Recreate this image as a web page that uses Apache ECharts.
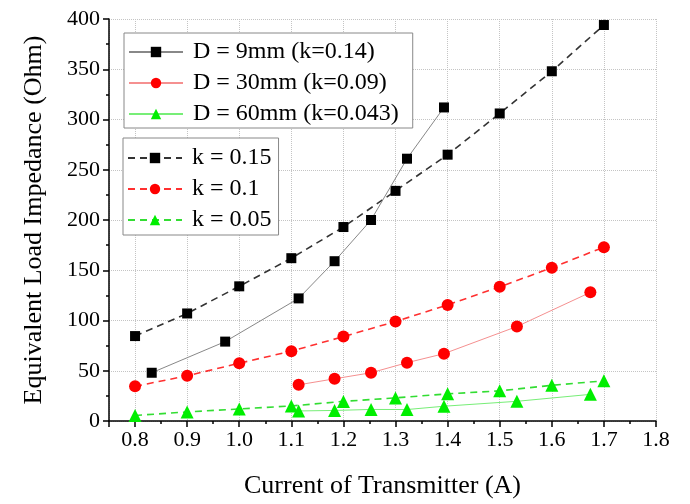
<!DOCTYPE html>
<html><head><meta charset="utf-8">
<script src="https://cdn.jsdelivr.net/npm/echarts@6/dist/echarts.min.js"></script>
<style>html,body{margin:0;padding:0;background:#fff}#c{width:690px;height:504px}</style>
</head><body><div id="c"></div>
<script>
// ---- data ----
const xTickLabels = ['0.8','0.9','1.0','1.1','1.2','1.3','1.4','1.5','1.6','1.7','1.8'];
const yTickLabels = ['0','50','100','150','200','250','300','350','400'];

const d9X  = [0.832, 0.973, 1.114, 1.183, 1.253, 1.322, 1.393];
const d9Y  = [48, 79, 122, 159, 200, 261, 312];
const d30X = [1.114, 1.183, 1.253, 1.322, 1.393, 1.533, 1.674];
const d30Y = [36, 42, 48, 58, 67, 94, 128];
const d60X = [1.114, 1.183, 1.253, 1.322, 1.393, 1.533, 1.674];
const d60Y = [10, 10.5, 11.5, 11.4, 14.7, 19.6, 26.5];

const kX    = [0.8, 0.9, 1.0, 1.1, 1.2, 1.3, 1.4, 1.5, 1.6, 1.7];
const k015Y = [84.5, 107, 134, 162, 193, 229, 265, 306, 348, 394];
const k010Y = [34.5, 45, 57.5, 69.5, 84, 99, 115.5, 133.5, 152.5, 173];
const k005Y = [5.5, 9, 12, 15, 19.5, 23, 27, 30, 35.5, 40];

const names1 = ['D = 9mm (k=0.14)', 'D = 30mm (k=0.09)', 'D = 60mm (k=0.043)'];
const names2 = ['k = 0.15', 'k = 0.1', 'k = 0.05'];

// ---- build ----
const pairs = (xs, ys) => xs.map((x, i) => [x, ys[i]]);
const FONT = 'Liberation Serif';

function mk(name, data, symbol, color, lineColor, dashed, size) {
  return {
    name, type: 'line', data: pairs(data[0], data[1]),
    symbol, symbolSize: size,
    itemStyle: { color: color },
    lineStyle: { color: lineColor, width: dashed ? 1.6 : 1, type: dashed ? [7, 5] : 'solid' },
    emphasis: { disabled: true },
    z: dashed ? 2 : 3
  };
}

const chart = echarts.init(document.getElementById('c'), null, { renderer: 'canvas' });
const legendBase = {
  orient: 'vertical', itemWidth: 54, itemHeight: 13, itemGap: 7,
  borderColor: '#888', borderWidth: 1, backgroundColor: '#fff',
  textStyle: { fontFamily: FONT, fontSize: 24, color: '#000', padding: [0, 0, 0, 5] },
  selectedMode: false
};
chart.setOption({
  animation: false,
  backgroundColor: '#fff',
  grid: { left: 109, right: 34, top: 19, bottom: 80, containLabel: false },
  legend: [
    Object.assign({}, legendBase, { data: names1, left: 124, top: 33, padding: [7, 14, 2, 4] }),
    Object.assign({}, legendBase, { data: names2, left: 123, top: 138, padding: [8, 7, 3, 4] })
  ],
  xAxis: [{
    type: 'value', position: 'bottom', min: 0.75, max: 1.8,
    minInterval: 0.1, maxInterval: 0.1, splitNumber: 10,
    name: 'Current of Transmitter (A)', nameLocation: 'middle', nameGap: 52,
    nameTextStyle: { fontFamily: FONT, fontSize: 26, color: '#000' },
    axisLine: { lineStyle: { color: '#000', width: 1.5 } },
    axisTick: { length: 6, lineStyle: { color: '#000', width: 1.5 } },
    axisLabel: {
      fontFamily: FONT, fontSize: 22, color: '#000', margin: 8,
      formatter: v => { const s = v.toFixed(1); return (Math.abs(v * 10 - Math.round(v * 10)) < 1e-6 && xTickLabels.includes(s)) ? s : ''; }
    },
    splitLine: { show: true, lineStyle: { type: 'dotted', color: '#c4c4c4', width: 1 } }
  }, {
    type: 'value', position: 'bottom', min: 0.75, max: 1.8, interval: 0.05,
    axisLine: { show: false },
    axisTick: { length: 3, lineStyle: { color: '#000', width: 1.5 } },
    axisLabel: { show: false },
    splitLine: { show: false }
  }],
  yAxis: {
    type: 'value', min: 0, max: 400, interval: 50,
    name: 'Equivalent Load Impedance (Ohm)', nameLocation: 'middle', nameGap: 62,
    nameTextStyle: { fontFamily: FONT, fontSize: 26, color: '#000' },
    axisLine: { show: true, lineStyle: { color: '#000', width: 1.5 } },
    axisTick: { show: true, length: 6, lineStyle: { color: '#000', width: 1.5 } },
    minorTick: { show: true, splitNumber: 2, length: 3, lineStyle: { color: '#000', width: 1.5 } },
    axisLabel: { fontFamily: FONT, fontSize: 22, color: '#000', margin: 9,
      formatter: v => yTickLabels.includes(String(v)) ? String(v) : '' },
    splitLine: { show: true, lineStyle: { type: 'dotted', color: '#c4c4c4', width: 1 } }
  },
  series: [
    mk(names2[0], [kX, k015Y], 'rect', '#000', '#333', true, 10),
    mk(names2[1], [kX, k010Y], 'circle', '#ff0000', '#ff3030', true, 12),
    mk(names2[2], [kX, k005Y], 'triangle', '#00ee00', '#33dd33', true, 13),
    mk(names1[0], [d9X, d9Y], 'rect', '#000', '#888', false, 10),
    mk(names1[1], [d30X, d30Y], 'circle', '#ff0000', '#f59090', false, 12),
    mk(names1[2], [d60X, d60Y], 'triangle', '#00ee00', '#77ee77', false, 13)
  ]
});
</script></body></html>
